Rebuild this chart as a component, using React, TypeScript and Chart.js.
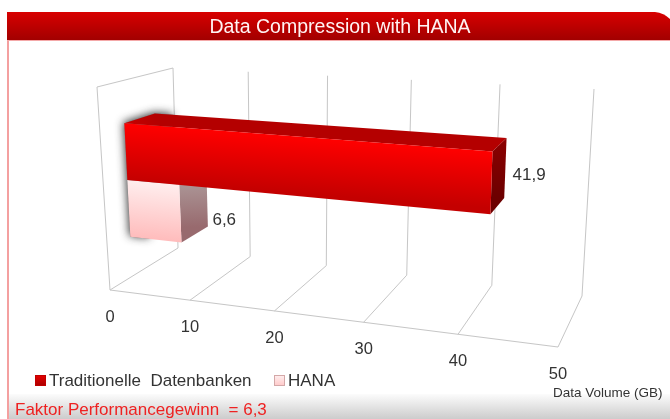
import React, { useEffect, useRef } from "react";
import { Chart, registerables } from "chart.js";

Chart.register(...registerables);

const categories = ["Data Volume (GB)"];
const seriesNames = ["Traditionelle  Datenbanken", "HANA"];
const traditionalValues = [41.9];
const hanaValues = [6.6];
const valueMin = 0;
const valueMax = 50;
const valueStep = 10;
const titleText = "Data Compression with HANA";
const axisTitleText = "Data Volume (GB)";
const footerText = "Faktor Performancegewinn  = 6,3";

type Pt = [number, number];
const FB: Pt[] = [[110, 290], [558, 347]]; // floor front edge
const BB: Pt[] = [[178, 248], [582, 296]]; // floor back edge
const BT: Pt[] = [[173, 68], [594, 89]]; // back wall top
const FT: Pt[] = [[97, 87], [568, 120]]; // front top edge
const persp = 0.87;
const depthFront = 0.33;
const depthBack = 0.74;
const planeShift = 0.008;

const warp = (u: number) => (persp * u) / (1 + (persp - 1) * u);
const lerp = (a: Pt, b: Pt, t: number): Pt => [a[0] + (b[0] - a[0]) * t, a[1] + (b[1] - a[1]) * t];
// u: along the value axis, w: depth, h: height; all 0..1
const project = (u: number, w: number, h: number): Pt => {
  const v = warp(u);
  const bottom = lerp(lerp(FB[0], FB[1], v), lerp(BB[0], BB[1], v), w);
  const top = lerp(lerp(FT[0], FT[1], v), lerp(BT[0], BT[1], v), w);
  return lerp(bottom, top, h);
};

const poly = (ctx: CanvasRenderingContext2D, pts: Pt[]) => {
  ctx.beginPath();
  pts.forEach((p, i) => (i ? ctx.lineTo(p[0], p[1]) : ctx.moveTo(p[0], p[1])));
  ctx.closePath();
};
const grad = (ctx: CanvasRenderingContext2D, a: Pt, b: Pt, c0: string, c1: string) => {
  const g = ctx.createLinearGradient(a[0], a[1], b[0], b[1]);
  g.addColorStop(0, c0);
  g.addColorStop(1, c1);
  return g;
};

const styles = [
  { front: ["#ff0000", "#c40000"], top: ["#b40000", "#c80000"], side: ["#8c0000", "#6c0000"], labelT: 0.49, swatch: ["#e80000", "#a80000"], swatchLine: "#c00000" },
  { front: ["#ffeeee", "#ffbcbc"], top: ["#c09090", "#c09090"], side: ["#b0a0a0", "#986a6e"], labelT: 0.69, swatch: ["#fff0f0", "#ffc8c8"], swatchLine: "#d4a8a8" },
];
const legendPositions = [35, 274];

const FONT = "'Liberation Sans', Arial, sans-serif";

const scenePlugin = {
  id: "scene",
  beforeDraw(chart: any) {
    const ctx: CanvasRenderingContext2D = chart.ctx;
    ctx.save();
    ctx.fillStyle = "#ffffff";
    ctx.fillRect(0, 0, 670, 419);
    // panel left border
    ctx.fillStyle = "#f4a0a0";
    ctx.fillRect(7, 12, 2, 407);
    // footer band
    const fg = ctx.createLinearGradient(0, 394, 0, 419);
    fg.addColorStop(0, "#fcfcfc");
    fg.addColorStop(1, "#cccccc");
    ctx.fillStyle = fg;
    ctx.fillRect(9, 394, 661, 25);
    // header
    const hg = ctx.createLinearGradient(0, 12, 0, 41);
    hg.addColorStop(0, "#d80000");
    hg.addColorStop(1, "#a00000");
    ctx.fillStyle = hg;
    ctx.beginPath();
    ctx.moveTo(7, 12);
    ctx.lineTo(655, 12);
    ctx.quadraticCurveTo(664, 13, 670, 19);
    ctx.lineTo(670, 41);
    ctx.lineTo(7, 41);
    ctx.closePath();
    ctx.fill();
    ctx.fillStyle = "#f4a8a8";
    ctx.fillRect(7, 40, 663, 1);
    ctx.restore();
  },
  beforeDatasetsDraw(chart: any) {
    const ctx: CanvasRenderingContext2D = chart.ctx;
    const xs = chart.scales.x;
    const area = chart.chartArea;
    const toU = (px: number) => (px - area.left) / (area.right - area.left);
    const toH = (py: number) => (area.bottom - py) / (area.bottom - area.top) - planeShift;

    ctx.save();
    // walls and grid
    ctx.strokeStyle = "#c6c6c6";
    ctx.lineWidth = 1;
    const line = (a: Pt, b: Pt) => {
      ctx.beginPath();
      ctx.moveTo(a[0], a[1]);
      ctx.lineTo(b[0], b[1]);
      ctx.stroke();
    };
    line(project(0, 0, 0), project(0, 0, 1));
    line(project(0, 0, 1), project(0, 1, 1));
    line(project(0, 0, 0), project(1, 0, 0));
    ctx.font = `16.5px ${FONT}`;
    ctx.textAlign = "center";
    ctx.textBaseline = "middle";
    xs.ticks.forEach((t: any) => {
      const u = toU(xs.getPixelForValue(t.value));
      line(project(u, 0, 0), project(u, 1, 0));
      line(project(u, 1, 0), project(u, 1, 1));
      const p = project(u, 0, 0);
      ctx.fillStyle = "#333333";
      ctx.fillText(String(t.value), p[0], p[1] + 27.5);
    });

    const drawOrder = chart.data.datasets.map((_: any, i: number) => i).reverse();

    // halo behind the bars' left end
    const m0 = chart.getDatasetMeta(0).data[0];
    const m1 = chart.getDatasetMeta(1).data[0];
    const hiH = toH(m0.y - m0.height / 2);
    const loH = toH(m1.y + m1.height / 2);
    ctx.save();
    ctx.shadowColor = "rgba(30,30,30,0.9)";
    ctx.shadowBlur = 9;
    ctx.shadowOffsetX = -1;
    ctx.shadowOffsetY = -1;
    ctx.fillStyle = "#777";
    poly(ctx, [
      project(0, depthFront, loH),
      project(0, depthFront, hiH),
      project(0, depthBack, hiH),
      project(0.05, depthBack, hiH),
      project(0.05, depthFront, loH),
    ]);
    ctx.fill();
    ctx.restore();

    drawOrder.forEach((i: number) => {
      const bar = chart.getDatasetMeta(i).data[0];
      const s = styles[i];
      const u0 = toU(bar.base);
      const u1 = toU(bar.x);
      const hT = toH(bar.y - bar.height / 2);
      const hB = toH(bar.y + bar.height / 2);
      const f = depthFront;
      const b = depthBack;
      const fTL = project(u0, f, hT), fTR = project(u1, f, hT), fBR = project(u1, f, hB), fBL = project(u0, f, hB);
      const bTL = project(u0, b, hT), bTR = project(u1, b, hT), bBR = project(u1, b, hB);
      ctx.fillStyle = grad(ctx, bTL, fTL, s.top[0], s.top[1]);
      poly(ctx, [fTL, bTL, bTR, fTR]);
      ctx.fill();
      ctx.fillStyle = grad(ctx, bTR, bBR, s.side[0], s.side[1]);
      poly(ctx, [fTR, bTR, bBR, fBR]);
      ctx.fill();
      // front gradient runs perpendicular to the top edge
      const ex = fTR[0] - fTL[0], ey = fTR[1] - fTL[1];
      const len = Math.hypot(ex, ey) || 1;
      const H = fBL[1] - fTL[1];
      ctx.fillStyle = grad(ctx, fTL, [fTL[0] - (ey / len) * H, fTL[1] + (ex / len) * H], s.front[0], s.front[1]);
      poly(ctx, [fTL, fTR, fBR, fBL]);
      ctx.fill();
      // value label
      const value = chart.data.datasets[i].data[0];
      ctx.fillStyle = "#333333";
      ctx.textAlign = "left";
      ctx.font = `17px ${FONT}`;
      ctx.fillText(String(value).replace(".", ","), bTR[0] + 6, lerp(bTR, fBR, s.labelT)[1]);
      ctx.textAlign = "center";
    });

    // legend, read from the datasets
    ctx.textAlign = "left";
    ctx.font = `17px ${FONT}`;
    chart.data.datasets.forEach((d: any, i: number) => {
      const s = styles[i];
      const x = legendPositions[i];
      ctx.fillStyle = grad(ctx, [x, 375], [x, 386], s.swatch[0], s.swatch[1]);
      ctx.fillRect(x, 375, 11, 11);
      ctx.strokeStyle = s.swatchLine;
      ctx.strokeRect(x + 0.5, 375.5, 10, 10);
      ctx.fillStyle = "#333333";
      ctx.fillText(d.label, x + 14, 381);
    });

    // axis title and footer note
    ctx.fillStyle = "#333333";
    ctx.font = `13.5px ${FONT}`;
    ctx.fillText(axisTitleText, 553, 393);
    ctx.fillStyle = "#ee2222";
    ctx.font = `17px ${FONT}`;
    ctx.fillText(footerText, 15, 410.5);
    ctx.restore();
    return false;
  },
};

export default function App() {
  const ref = useRef<HTMLCanvasElement>(null);
  useEffect(() => {
    document.body.style.margin = "0";
    const chart = new Chart(ref.current as HTMLCanvasElement, {
      type: "bar",
      plugins: [scenePlugin as any],
      data: {
        labels: categories,
        datasets: [
          { label: seriesNames[0], data: traditionalValues, backgroundColor: "#cc0000" },
          { label: seriesNames[1], data: hanaValues, backgroundColor: "#ffd0d0" },
        ],
      },
      options: {
        indexAxis: "y",
        responsive: false,
        animation: false,
        layout: { padding: { left: 11, right: 1, top: 0, bottom: 18 } },
        scales: {
          x: { display: false, min: valueMin, max: valueMax, ticks: { stepSize: valueStep } },
          y: { display: false, grid: { display: false } },
        },
        datasets: { bar: { categoryPercentage: 0.58, barPercentage: 1 } },
        plugins: {
          title: {
            display: true,
            text: titleText,
            color: "#fff4f4",
            font: { family: FONT, size: 19.5, weight: "normal" },
            padding: { top: 16, bottom: 6 },
          },
          legend: { display: false },
          tooltip: { enabled: false },
        },
      } as any,
    });
    return () => chart.destroy();
  }, []);
  return <canvas ref={ref} width={670} height={419} style={{ display: "block", filter: "blur(0.55px)" }} />;
}
